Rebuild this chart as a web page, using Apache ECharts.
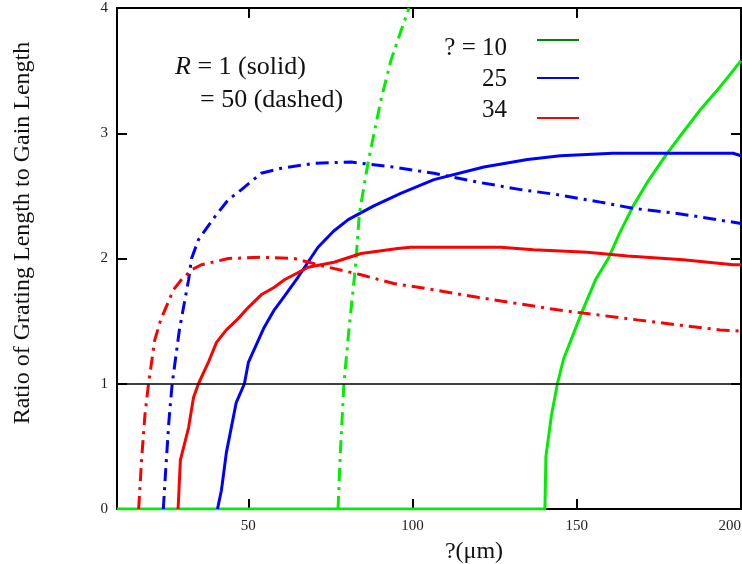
<!DOCTYPE html>
<html>
<head>
<meta charset="utf-8">
<script src="https://cdn.jsdelivr.net/npm/echarts@6/dist/echarts.min.js"></script>
<style>
html,body{margin:0;padding:0;background:#fff;}
#chart{width:742px;height:564px;}
</style>
</head>
<body>
<div id="chart"></div>
<script>
// ---- data ----
const xTickValues = [50, 100, 150];
const xLabelValues = [50, 100, 150, 200];
const yLabels = ['0', '1', '2', '3', '4'];
const legendLabels = ['? = 10', '25', '34'];

// zeta = 10, R = 1 (solid)
const green10Solid = [[10,0],[140.3,0],[140.6,0.42],[142.3,0.75],[144.1,1.0],[146,1.2],[149,1.4],[152,1.6],[155.7,1.83],[159.6,2.0],[163,2.2],[167.2,2.42],[172,2.63],[177.5,2.84],[183,3.03],[188,3.2],[193.6,3.37],[197,3.48],[200,3.58]];
// zeta = 10, R = 50 (dashed)
const green10Dashed = [[77.3,0],[78,0.45],[79.1,1.0],[80.5,1.4],[82.2,1.83],[82.8,2.0],[83.8,2.36],[86.4,2.76],[90.4,3.27],[93.4,3.58],[96.5,3.82],[98.9,4.0]];
// zeta = 25, R = 1
const blue25Solid = [[40.6,0],[41.8,0.15],[43.3,0.45],[46.3,0.85],[48.8,1.0],[50,1.17],[54.8,1.45],[57.9,1.59],[61,1.7],[65.1,1.85],[71.2,2.09],[76,2.22],[80.4,2.31],[88.2,2.42],[96.4,2.52],[106.5,2.63],[121.7,2.73],[135,2.79],[145,2.82],[161,2.84],[197.6,2.84],[200,2.82]];
// zeta = 25, R = 50
const blue25Dashed = [[24.1,0],[24.8,0.3],[25.8,0.7],[26.8,1.0],[29,1.43],[31.8,1.83],[32.7,2.0],[34.8,2.15],[39.7,2.33],[43.9,2.47],[47.9,2.55],[53.9,2.68],[60,2.72],[70,2.76],[81.3,2.77],[94.3,2.73],[106.5,2.68],[119.8,2.61],[132.9,2.55],[144.1,2.51],[157.2,2.45],[167.2,2.40],[180.6,2.36],[192.7,2.31],[200,2.28]];
// zeta = 34, R = 1
const red34Solid = [[28.6,0],[29.3,0.39],[31.8,0.65],[33.3,0.89],[34.8,1.0],[37.8,1.17],[40.3,1.33],[43.3,1.43],[46.9,1.52],[50,1.61],[53.9,1.71],[57.9,1.77],[61,1.83],[68.2,1.93],[76.1,1.97],[84.3,2.04],[95.5,2.08],[99.5,2.09],[126.8,2.09],[136.8,2.07],[153.2,2.05],[165.4,2.02],[182.4,1.99],[197.6,1.95],[200,1.95]];
// zeta = 34, R = 50
const red34Dashed = [[16.6,0],[17.5,0.4],[18.5,0.75],[19.6,1.0],[21.5,1.35],[23.3,1.51],[27.2,1.75],[29.6,1.83],[32.7,1.91],[35.7,1.95],[43.9,2.0],[53.9,2.01],[64,2.0],[74.3,1.93],[84.3,1.87],[94.3,1.80],[106.5,1.75],[119.8,1.69],[132,1.64],[144.1,1.59],[156.3,1.55],[168.4,1.51],[180.6,1.47],[193.6,1.43],[200,1.42]];

// ---- styling ----
const SERIF = 'Liberation Serif';
const GREEN = '#00ee00', BLUE = '#0000ff', RED = '#ff0000';
const DASH = [13, 6, 3, 6];

const chart = echarts.init(document.getElementById('chart'), null, {renderer: 'canvas'});

const frameLine = {show: true, onZero: false, lineStyle: {color: '#000', width: 2}};
const tickStyle = {show: true, inside: true, length: 10, lineStyle: {color: '#000', width: 2}};

function lineSeries(data, color, dashed) {
  return {
    type: 'line', data: data, showSymbol: false, symbol: 'none',
    clip: true, animation: false,
    lineStyle: {color: color, width: 3, type: dashed ? DASH : 'solid'},
    z: 3
  };
}

const option = {
  backgroundColor: '#fff',
  animation: false,
  grid: {left: 117, right: 1, top: 8, bottom: 55, containLabel: false, outerBoundsMode: 'none'},
  xAxis: [
    {type: 'value', min: 10, max: 200, position: 'bottom',
     axisLine: frameLine,
     axisTick: Object.assign({}, tickStyle, {customValues: xTickValues}),
     axisLabel: {customValues: xLabelValues, fontFamily: SERIF, fontSize: 15, color: '#222', margin: 10,
                 alignMaxLabel: 'right'},
     splitLine: {show: false}},
    {type: 'value', min: 10, max: 200, position: 'top',
     axisLine: frameLine,
     axisTick: Object.assign({}, tickStyle, {customValues: xTickValues}),
     axisLabel: {show: false}, splitLine: {show: false}}
  ],
  yAxis: [
    {type: 'value', min: 0, max: 4, interval: 1, position: 'left',
     axisLine: frameLine, axisTick: tickStyle,
     axisLabel: {fontFamily: SERIF, fontSize: 15, color: '#222', margin: 9,
                 showMinLabel: true, showMaxLabel: true,
                 formatter: function (v) { return yLabels[Math.round(v)]; }},
     splitLine: {show: false}},
    {type: 'value', min: 0, max: 4, interval: 1, position: 'right',
     axisLine: frameLine, axisTick: tickStyle,
     axisLabel: {show: false}, splitLine: {show: false}}
  ],
  series: [
    Object.assign(lineSeries(green10Solid, GREEN, false), {
      markLine: {silent: true, symbol: 'none', animation: false,
                 label: {show: false},
                 lineStyle: {color: '#000', width: 1.5, type: 'solid'},
                 data: [{yAxis: 1}]}
    }),
    lineSeries(green10Dashed, GREEN, true),
    lineSeries(blue25Solid, BLUE, false),
    lineSeries(blue25Dashed, BLUE, true),
    lineSeries(red34Solid, RED, false),
    lineSeries(red34Dashed, RED, true)
  ],
  graphic: [
    {type: 'text', x: 23, y: 233, rotation: Math.PI / 2,
     style: {text: 'Ratio of Grating Length to Gain Length', fontFamily: SERIF, fontSize: 24,
             fill: '#111', textAlign: 'center', textVerticalAlign: 'middle'}},
    {type: 'text', x: 474, y: 552,
     style: {text: '?(μm)', fontFamily: SERIF, fontSize: 24, fill: '#111',
             textAlign: 'center', textVerticalAlign: 'middle'}},
    {type: 'text', x: 175, y: 67,
     style: {text: '{i|R} = 1 (solid)', fontFamily: SERIF, fontSize: 26, fill: '#111',
             textAlign: 'left', textVerticalAlign: 'middle',
             rich: {i: {fontStyle: 'italic', fontFamily: SERIF, fontSize: 26, fill: '#111'}}}},
    {type: 'text', x: 200, y: 100,
     style: {text: '= 50 (dashed)', fontFamily: SERIF, fontSize: 26, fill: '#111',
             textAlign: 'left', textVerticalAlign: 'middle'}},
    {type: 'text', x: 507, y: 48,
     style: {text: legendLabels[0], fontFamily: SERIF, fontSize: 25, fill: '#111',
             textAlign: 'right', textVerticalAlign: 'middle'}},
    {type: 'text', x: 507, y: 79,
     style: {text: legendLabels[1], fontFamily: SERIF, fontSize: 25, fill: '#111',
             textAlign: 'right', textVerticalAlign: 'middle'}},
    {type: 'text', x: 507, y: 110,
     style: {text: legendLabels[2], fontFamily: SERIF, fontSize: 25, fill: '#111',
             textAlign: 'right', textVerticalAlign: 'middle'}},
    {type: 'line', shape: {x1: 537, y1: 40, x2: 579, y2: 40}, style: {stroke: '#008800', lineWidth: 2}},
    {type: 'line', shape: {x1: 537, y1: 78, x2: 579, y2: 78}, style: {stroke: BLUE, lineWidth: 2}},
    {type: 'line', shape: {x1: 537, y1: 118, x2: 579, y2: 118}, style: {stroke: RED, lineWidth: 2}}
  ]
};
chart.setOption(option);
</script>
</body>
</html>
